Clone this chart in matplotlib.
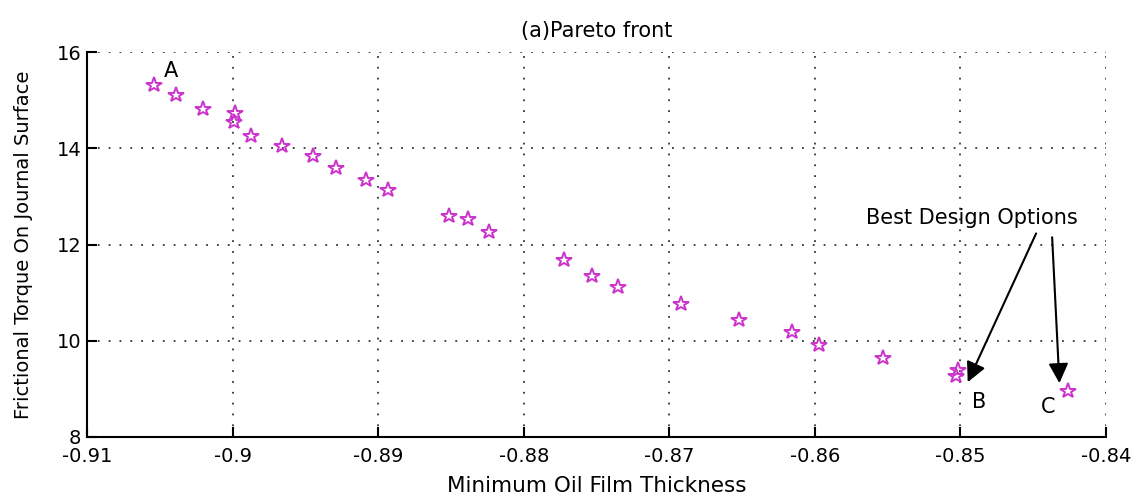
import matplotlib
matplotlib.use("Agg")
import matplotlib.pyplot as plt

plt.rcParams['font.family'] = ['DejaVu Sans']

film_thickness = [-0.9054, -0.9039, -0.9020, -0.8998, -0.8999, -0.8987, -0.8966,
                  -0.8945, -0.8929, -0.8908, -0.8893, -0.8851, -0.8838, -0.8824,
                  -0.8772, -0.8753, -0.8735, -0.8692, -0.8652, -0.8616, -0.8597,
                  -0.8553, -0.8502, -0.8503, -0.8426]
torque = [15.32, 15.11, 14.82, 14.74, 14.54, 14.26, 14.05,
          13.83, 13.59, 13.34, 13.14, 12.59, 12.52, 12.27,
          11.67, 11.34, 11.12, 10.76, 10.44, 10.18, 9.92,
          9.64, 9.40, 9.27, 8.95]

x_ticks = [-0.91, -0.9, -0.89, -0.88, -0.87, -0.86, -0.85, -0.84]
x_tick_labels = ['-0.91', '-0.9', '-0.89', '-0.88', '-0.87', '-0.86', '-0.85', '-0.84']
y_ticks = [8, 10, 12, 14, 16]

fig = plt.figure(figsize=(11.32, 4.95), dpi=100)
ax = fig.add_axes([87 / 1132, 1 - 437 / 495, 1019 / 1132, 385 / 495])

ax.plot(film_thickness, torque, linestyle='none', marker='*', markersize=11.5,
        markerfacecolor='none', markeredgecolor='#cc33cc', markeredgewidth=1.4)

ax.set_xlim(-0.91, -0.84)
ax.set_ylim(8, 16)
ax.set_xticks(x_ticks)
ax.set_xticklabels(x_tick_labels)
ax.set_yticks(y_ticks)
ax.grid(True, linestyle=(0, (1, 5)), color='#333333', linewidth=1.3)
ax.spines['top'].set_visible(False)
ax.spines['right'].set_visible(False)
ax.spines['left'].set_linewidth(1.5)
ax.spines['bottom'].set_linewidth(1.5)
ax.tick_params(direction='in', length=7, width=1.5, labelsize=14)
ax.tick_params(axis='x', pad=7)
ax.tick_params(axis='y', pad=4)

ax.set_title('(a)Pareto front', fontsize=15, pad=11)
ax.set_xlabel('Minimum Oil Film Thickness', fontsize=15.5)
ax.set_ylabel('Frictional Torque On Journal Surface', fontsize=14)
ax.xaxis.set_label_coords(0.5, -0.10)
ax.yaxis.set_label_coords(-0.053, 0.5)

ax.text(-0.9042, 15.6, 'A', fontsize=15, ha='center', va='center')
ax.text(-0.8487, 8.72, 'B', fontsize=15, ha='center', va='center')
ax.text(-0.8440, 8.62, 'C', fontsize=15, ha='center', va='center')

ax.text(-0.8492, 12.55, 'Best Design Options', fontsize=15, ha='center', va='center')
ax.annotate('', xy=(-0.8495, 9.14), xytext=(-0.8448, 12.23),
            arrowprops=dict(arrowstyle='-|>', color='black', lw=1.5,
                            mutation_scale=30, shrinkA=0, shrinkB=0))
ax.annotate('', xy=(-0.8432, 9.12), xytext=(-0.8437, 12.15),
            arrowprops=dict(arrowstyle='-|>', color='black', lw=1.5,
                            mutation_scale=30, shrinkA=0, shrinkB=0))

fig.savefig('out.png', dpi=100)
